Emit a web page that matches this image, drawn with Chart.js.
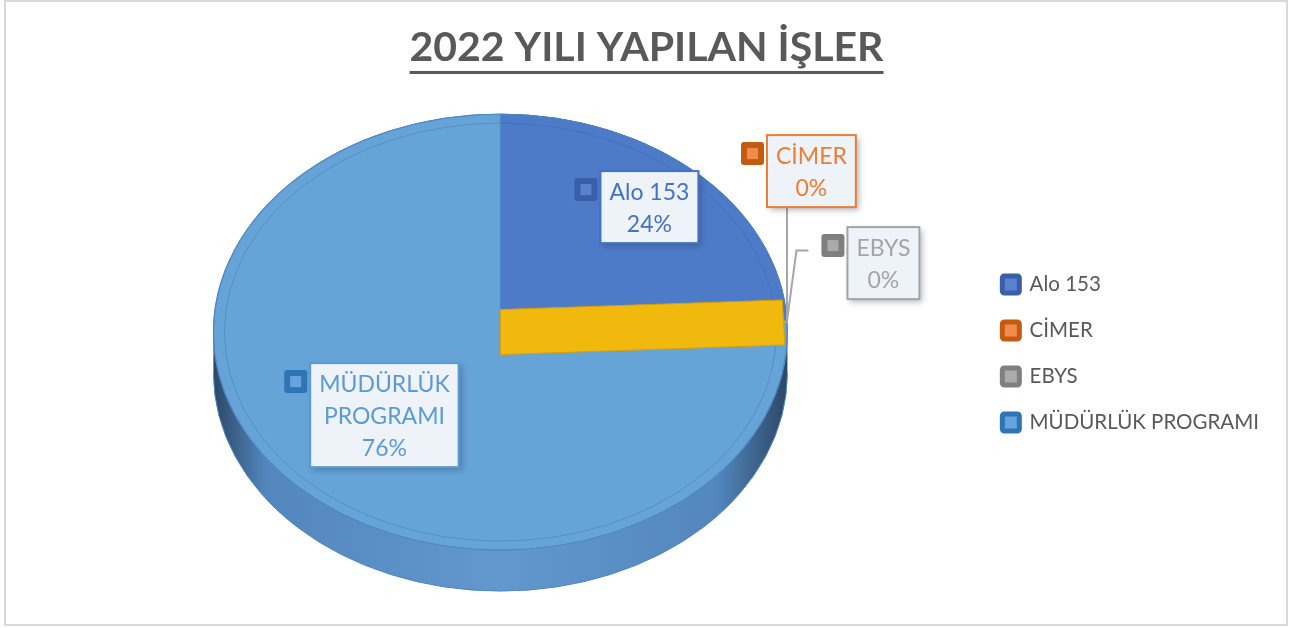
<!DOCTYPE html>
<html>
<head>
<meta charset="utf-8">
<script src="https://cdn.jsdelivr.net/npm/chart.js@4.4.0/dist/chart.umd.min.js"></script>
<style>
  html, body { margin: 0; padding: 0; background: #fff; }
</style>
</head>
<body>
<canvas id="isler-pie" width="1302" height="628"></canvas>
<script>
// 2022 work breakdown (percent of all jobs)
var categories = ['Alo 153', 'CİMER', 'EBYS', '', 'MÜDÜRLÜK PROGRAMI'];
var shares = [24.1, 0.05, 0.05, 0.2, 75.6];

// slice look
var sliceColors = ['#4e7bc8', '#ed7d31', '#a5a5a5', '#f1b80e', '#66a3d7'];
var sliceBorders = ['#3e69b3', '#d36a22', '#8f8f8f', '#d6a20b', '#4f8ccb'];
var labelColors = ['#4472c4', '#ed7d31', '#a5a5a5', '#ffc000', '#5b9bd5'];
var keyOuter = ['#3a5fa8', '#c55a11', '#7f7f7f', '#bf9000', '#2e75b6'];
var keyInner = ['#5882d0', '#f08c4c', '#ababab', '#ffc000', '#66a4dc'];
var sideShades = [
  ['#24406e', '#3b63a8', '#4670b8'],
  ['#7a3a10', '#c0621f', '#d06e28'],
  ['#555555', '#8a8a8a', '#969696'],
  ['#7a5c00', '#c99a08', '#d9a70b'],
  ['#2c4766', '#5286bd', '#6398cf']
];

// callout placement: box centre relative to the top face centre
var labelOffsets = [[149, -125], [311, -161], [383, -69], null, [-116, 83]];
var leaderStyle = [null, 'down', 'elbow', null, null];

var PIE = { rx: 287, ry: 218, depth: 41 };
var LABEL_FONT = '23px Lato';
var TITLE_FONT_SIZE = 41;

function pieGeometry(chart) {
  var arc = chart.getDatasetMeta(0).data[0];
  var r = arc.outerRadius;
  return {
    cx: arc.x, cy: arc.y, r: r,
    sx: PIE.rx / r, sy: PIE.ry / r,
    rx: PIE.rx, ry: PIE.ry,
    topY: arc.y - PIE.depth / 2,
    botY: arc.y + PIE.depth / 2
  };
}

function roundRect(ctx, x, y, w, h, rad) {
  ctx.beginPath();
  ctx.moveTo(x + rad, y);
  ctx.lineTo(x + w - rad, y);
  ctx.quadraticCurveTo(x + w, y, x + w, y + rad);
  ctx.lineTo(x + w, y + h - rad);
  ctx.quadraticCurveTo(x + w, y + h, x + w - rad, y + h);
  ctx.lineTo(x + rad, y + h);
  ctx.quadraticCurveTo(x, y + h, x, y + h - rad);
  ctx.lineTo(x, y + rad);
  ctx.quadraticCurveTo(x, y, x + rad, y);
  ctx.closePath();
}

var pie3d = {
  id: 'pie3d',
  beforeDraw: function (chart) {
    var ctx = chart.ctx;
    ctx.save();
    ctx.strokeStyle = '#d9d9d9';
    ctx.lineWidth = 2;
    ctx.strokeRect(5, 1, 1282, 624);
    ctx.restore();
  },
  beforeDatasetsDraw: function (chart) {
    var ctx = chart.ctx;
    var g = pieGeometry(chart);
    var arcs = chart.getDatasetMeta(0).data;

    // outer wall of the front half
    arcs.forEach(function (arc, i) {
      var a0 = Math.max(arc.startAngle, 0);
      var a1 = Math.min(arc.endAngle, Math.PI);
      if (a1 <= a0) return;
      var sh = sideShades[i];
      var grad = ctx.createLinearGradient(g.cx - g.rx, 0, g.cx + g.rx, 0);
      grad.addColorStop(0, sh[0]);
      grad.addColorStop(0.09, sh[1]);
      grad.addColorStop(0.5, sh[2]);
      grad.addColorStop(0.88, sh[1]);
      grad.addColorStop(1, sh[0]);
      ctx.save();
      ctx.beginPath();
      ctx.ellipse(g.cx, g.topY, g.rx, g.ry, 0, a0, a1, false);
      ctx.lineTo(g.cx + g.rx * Math.cos(a1), g.botY + g.ry * Math.sin(a1));
      ctx.ellipse(g.cx, g.botY, g.rx, g.ry, 0, a1, a0, true);
      ctx.closePath();
      ctx.fillStyle = grad;
      ctx.fill();
      ctx.restore();
    });
    ctx.save();
    ctx.beginPath();
    ctx.ellipse(g.cx, g.botY, g.rx, g.ry, 0, 0, Math.PI, false);
    ctx.strokeStyle = '#4f86c2';
    ctx.lineWidth = 1;
    ctx.stroke();
    ctx.restore();

    // tilt the flat pie into the top face
    ctx.save();
    ctx.translate(g.cx, g.topY);
    ctx.scale(g.sx, g.sy);
    ctx.translate(-g.cx, -g.cy);
  },
  afterDatasetsDraw: function (chart) {
    var ctx = chart.ctx;
    ctx.restore();
    var g = pieGeometry(chart);
    var arcs = chart.getDatasetMeta(0).data;

    // rim and bevel
    ctx.save();
    ctx.beginPath();
    ctx.ellipse(g.cx, g.topY, g.rx, g.ry, 0, 0, Math.PI * 2);
    ctx.strokeStyle = '#4d86c4';
    ctx.lineWidth = 1;
    ctx.stroke();
    ctx.beginPath();
    ctx.ellipse(g.cx, g.topY, g.rx - 11, g.ry - 9, 0, 0, Math.PI * 2);
    ctx.strokeStyle = 'rgba(35,80,150,0.25)';
    ctx.stroke();
    ctx.restore();

    // cut face of the unnamed slice
    var yi = categories.indexOf('');
    if (yi >= 0) {
      var ya = arcs[yi];
      var th = (ya.startAngle + ya.endAngle) / 2;
      var hh = PIE.depth / 2 + 2;
      var rimY = g.topY + g.ry * Math.sin(th);
      var rimX = function (y) {
        var t = (y - g.topY) / g.ry;
        return g.cx + g.rx * Math.sqrt(Math.max(0, 1 - t * t)) - 2;
      };
      ctx.save();
      ctx.beginPath();
      ctx.moveTo(g.cx, g.topY - hh);
      ctx.lineTo(rimX(rimY - hh), rimY - hh);
      ctx.lineTo(rimX(rimY + hh), rimY + hh);
      ctx.lineTo(g.cx, g.topY + hh);
      ctx.closePath();
      ctx.fillStyle = sliceColors[yi];
      ctx.fill();
      ctx.strokeStyle = sliceBorders[yi];
      ctx.lineWidth = 1;
      ctx.stroke();
      ctx.restore();
    }

    // callouts
    var total = shares.reduce(function (a, b) { return a + b; }, 0);
    ctx.save();
    ctx.font = LABEL_FONT;
    categories.forEach(function (name, i) {
      if (!labelOffsets[i]) return;
      var words = name.length > 10 ? name.split(' ') : [name];
      var lines = words.concat([Math.round(shares[i] / total * 100) + '%']);
      var tw = 0;
      lines.forEach(function (l) { tw = Math.max(tw, ctx.measureText(l).width); });
      var lineH = 32, padX = 9, padY = 4;
      var w = tw + padX * 2, h = lines.length * lineH + padY * 2;
      var bx = g.cx + labelOffsets[i][0] - w / 2;
      var by = g.topY + labelOffsets[i][1] - h / 2;
      var ks = 23;
      var kx = bx - 3 - ks, ky = by + 7;

      var arc = arcs[i];
      var am = (arc.startAngle + arc.endAngle) / 2;
      var px = g.cx + g.rx * Math.cos(am);
      var py = g.topY + g.ry * Math.sin(am);
      ctx.strokeStyle = '#a6a6a6';
      ctx.lineWidth = 2;
      if (leaderStyle[i] === 'down') {
        ctx.beginPath();
        ctx.moveTo(px, by + h);
        ctx.lineTo(px, py);
        ctx.stroke();
      } else if (leaderStyle[i] === 'elbow') {
        var ly = ky + ks / 2 + 5;
        ctx.beginPath();
        ctx.moveTo(kx - 13, ly);
        ctx.lineTo(kx - 25, ly);
        ctx.lineTo(px, py);
        ctx.stroke();
      }

      ctx.save();
      ctx.shadowColor = 'rgba(40,50,70,0.35)';
      ctx.shadowBlur = 6;
      ctx.shadowOffsetX = 3;
      ctx.shadowOffsetY = 3;
      ctx.fillStyle = '#eef2f9';
      ctx.fillRect(bx, by, w, h);
      ctx.restore();
      ctx.strokeStyle = labelColors[i];
      ctx.lineWidth = 2;
      ctx.strokeRect(bx, by, w, h);

      roundRect(ctx, kx, ky, ks, ks, 3);
      ctx.fillStyle = keyOuter[i];
      ctx.fill();
      ctx.fillStyle = keyInner[i];
      ctx.fillRect(kx + 6, ky + 6, ks - 12, ks - 12);

      ctx.fillStyle = labelColors[i];
      ctx.textAlign = 'center';
      ctx.textBaseline = 'middle';
      lines.forEach(function (l, j) {
        ctx.fillText(l, bx + w / 2, by + padY + lineH * j + lineH / 2 + 1);
      });
    });
    ctx.restore();
  },
  afterDraw: function (chart) {
    // underline the title
    var tb = chart.titleBlock;
    var ctx = chart.ctx;
    var opts = chart.options.plugins.title;
    ctx.save();
    ctx.font = 'bold ' + TITLE_FONT_SIZE + 'px Lato';
    var tw = ctx.measureText(opts.text).width;
    var mid = (tb.left + tb.right) / 2;
    var ty = tb.top + opts.padding.top + TITLE_FONT_SIZE * 1.2 / 2 + TITLE_FONT_SIZE * 0.57;
    ctx.fillStyle = '#595959';
    ctx.fillRect(mid - tw / 2, ty, tw, 3);
    ctx.restore();
  }
};

var pieCtx = document.getElementById('isler-pie').getContext('2d');

var pieChart = new Chart(pieCtx, {
  type: 'pie',
  data: {
    labels: categories,
    datasets: [{
      data: shares,
      backgroundColor: sliceColors,
      borderColor: sliceBorders,
      borderWidth: 1,
      clip: false
    }]
  },
  options: {
    responsive: false,
    devicePixelRatio: 1,
    animation: false,
    events: [],
    layout: {
      padding: { left: 24, right: 33, top: 0, bottom: 15 }
    },
    plugins: {
      title: {
        display: true,
        text: '2022 YILI YAPILAN İŞLER',
        color: '#595959',
        font: { family: 'Lato', size: TITLE_FONT_SIZE, weight: 'bold' },
        padding: { top: 23, bottom: 20 }
      },
      legend: {
        position: 'right',
        // empty title only pushes the key list down beside the pie
        title: {
          display: true,
          text: '',
          font: { size: 10 },
          padding: { top: 0, bottom: 82 }
        },
        labels: {
          boxWidth: 17,
          boxHeight: 17,
          padding: 25.5,
          color: '#595959',
          font: { family: 'Lato', size: 20.5 },
          generateLabels: function () {
            return categories.map(function (name, i) {
              return {
                text: name,
                fillStyle: keyInner[i],
                strokeStyle: keyOuter[i],
                lineWidth: 5,
                borderRadius: 2,
                fontColor: '#595959',
                hidden: false,
                index: i
              };
            }).filter(function (item) { return item.text !== ''; });
          }
        }
      },
      tooltip: { enabled: false }
    }
  },
  plugins: [pie3d]
});
</script>
</body>
</html>
